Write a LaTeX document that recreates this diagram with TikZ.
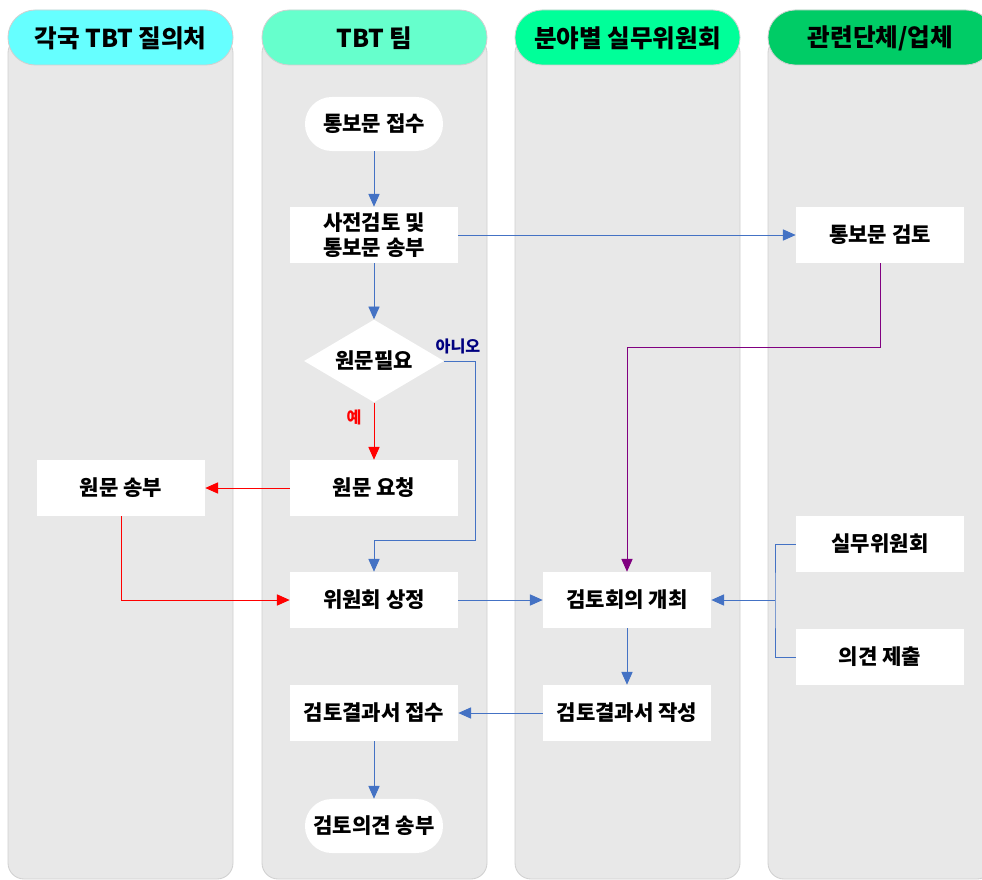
\documentclass[tikz,border=0pt]{standalone}
\usepackage{fontspec}
\setmainfont{Noto Sans CJK KR}
\usetikzlibrary{arrows.meta,shapes.geometric}
\definecolor{lanegray}{HTML}{E8E8E8}
\definecolor{laneline}{HTML}{D0D0D0}
\definecolor{flowblue}{HTML}{4472C4}
\definecolor{nonavy}{HTML}{000080}
\definecolor{reviewpurple}{HTML}{800080}
\definecolor{headcyan}{HTML}{66FFFF}
\definecolor{headmint}{HTML}{66FFCC}
\definecolor{headgreen}{HTML}{00FF99}
\definecolor{headdark}{HTML}{00CC66}
\begin{document}
\begin{tikzpicture}[x=0.025cm,y=-0.025cm,
	lane/.style={fill=lanegray,draw=laneline,line width=0.6pt,rounded corners=0.4cm},
	lanehead/.style={draw=laneline,line width=0.6pt,rounded corners=0.68cm},
	headtext/.style={font=\bfseries\fontsize{17.5}{20}\selectfont},
	box/.style={rectangle,fill=white,minimum width=4.2cm,minimum height=1.4cm,inner sep=0,align=center,font=\bfseries\fontsize{15}{18}\selectfont},
	term/.style={box,rounded corners=0.67cm,minimum width=3.45cm,minimum height=1.35cm},
	decision/.style={diamond,fill=white,aspect=1.69,minimum width=3.5cm,minimum height=2.07cm,inner sep=0,font=\bfseries\fontsize{15}{18}\selectfont},
	flow/.style={flowblue,line width=0.7pt,-{Triangle[length=0.32cm,width=0.28cm]}},
	yesflow/.style={flow,red},
	purpleflow/.style={flow,reviewpurple},
	plainflow/.style={flowblue,line width=0.7pt},
	tag/.style={font=\bfseries\fontsize{11.5}{13}\selectfont,inner sep=1pt}]
	\useasboundingbox (0,0) rectangle (982,880);
	\clip (0,0) rectangle (982,880);
	% lanes
	\foreach \x/\col/\title in {8/headcyan/{각국 TBT 질의처}, 262/headmint/{TBT 팀}, 515/headgreen/{분야별 실무위원회}, 768/headdark/{관련단체/업체}}{
		\draw[lane] (\x,37) rectangle (\x+225,879);%lane body
		\draw[lanehead,fill=\col] (\x,10) rectangle (\x+225,65);%lane header
		\node[headtext] at (\x+112.5,38) {\title};
	}
	% TBT team
	\node[term] (recv) at (374,124) {통보문 접수};
	\node[box] (pre) at (374,235) {사전검토 및\\통보문 송부};
	\node[decision] (need) at (374,361) {원문필요};
	\node[box] (ask) at (374,488) {원문 요청};
	\node[box] (plan) at (374,600) {위원회 상정};
	\node[box] (got) at (374,713) {검토결과서 접수};
	\node[term] (sendop) at (374,826) {검토의견 송부};
	% other lanes
	\node[box] (send) at (121,488) {원문 송부};
	\node[box] (meet) at (627,600) {검토회의 개최};
	\node[box] (write) at (627,713) {검토결과서 작성};
	\node[box] (review) at (880,235) {통보문 검토};
	\node[box] (wg) at (880,544) {실무위원회};
	\node[box] (opin) at (880,657) {의견 제출};
	% bends
	\coordinate (nobend) at (475,540);
	\coordinate (pbend) at (627,347);
	\coordinate (merge) at (775,600);
	% connectors
	\draw[flow] (recv) -- (pre);
	\draw[flow] (pre) -- (review);
	\draw[flow] (pre) -- (need);
	\draw[yesflow] (need) -- (ask);
	\node[tag,red] (yes) at (354,417) {예};
	\draw[flow] (need.east) -| (nobend) -| (plan.north);%no branch
	\node[tag,nonavy] (no) at (458,346) {아니오};
	\draw[yesflow] (ask) -- (send);
	\draw[yesflow] (send) |- (plan);
	\draw[flow] (plan) -- (meet);
	\draw[purpleflow] (review) |- (pbend) -- (meet);
	\draw[plainflow] (wg) -| (merge) |- (opin);
	\draw[flow] (merge) -- (meet);
	\draw[flow] (meet) -- (write);
	\draw[flow] (write) -- (got);
	\draw[flow] (got) -- (sendop);
\end{tikzpicture}
\end{document}
